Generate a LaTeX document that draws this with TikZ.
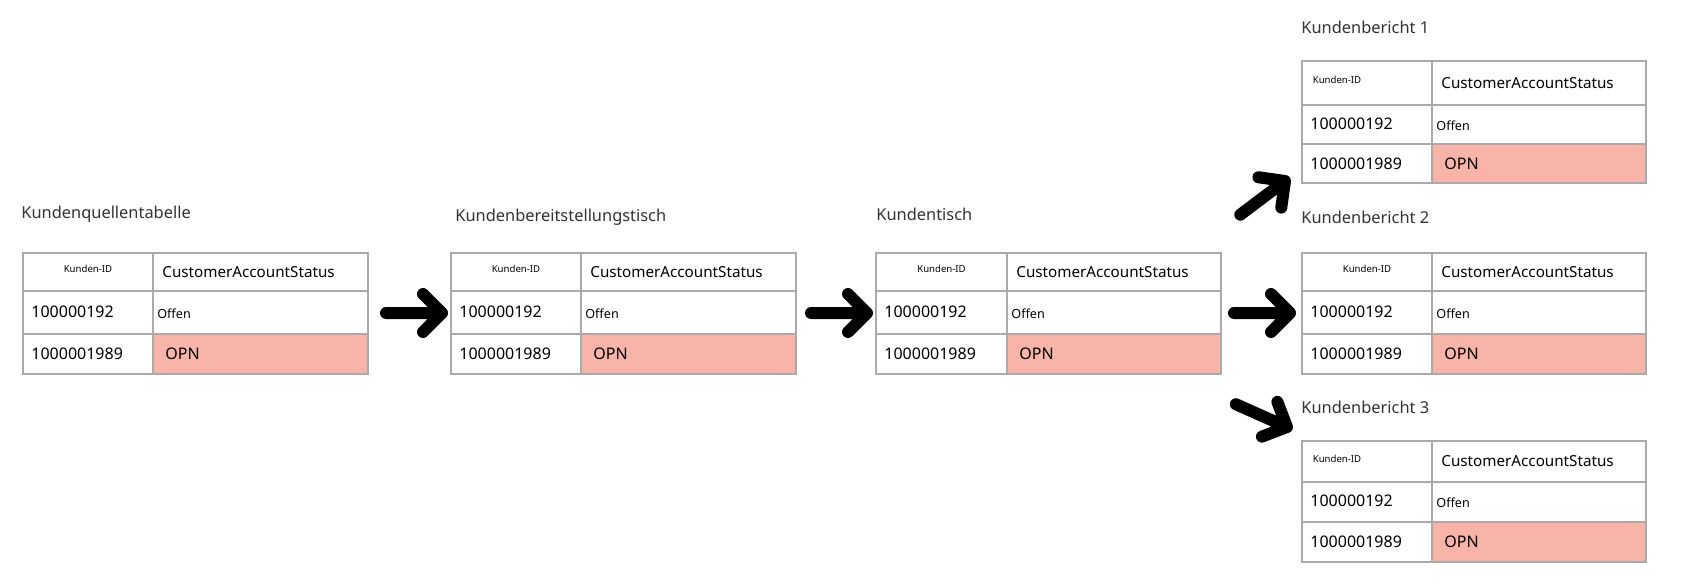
\documentclass[tikz,border=0pt]{standalone}
\usepackage{fontspec}
\setmainfont{Noto Sans}
\usetikzlibrary{fit}
\definecolor{grid}{HTML}{AAAAAA}
\definecolor{pink}{HTML}{F8B4A8}
\definecolor{txt}{HTML}{333333}
\tikzset{
  cell/.style={draw=grid,line width=1pt},
  lbl/.style={anchor=west,inner sep=0,font=\fontsize{8.2}{10}\selectfont,text=txt},
  num/.style={anchor=west,inner sep=0,font=\fontsize{8}{10}\selectfont},
  idt/.style={inner sep=0,font=\fontsize{4.8}{6}\selectfont},
  hdr/.style={anchor=west,inner sep=0,font=\bfseries\fontsize{7.6}{9}\selectfont},
  off/.style={anchor=west,inner sep=0,font=\fontsize{6.3}{8}\selectfont},
  bigarrow/.pic={\draw[line width=6pt,line cap=round,line join=round] (-56,0)--(0,0) (-19,-19)--(0,0)--(-19,19);}
}
\begin{document}
\begin{tikzpicture}[x=0.5pt,y=-0.5pt]
\def\mytable#1#2#3#4#5#6#7#8#9{%
  \fill[pink] (#3,#7) rectangle (#4,#8);
  \node[fit={(#2,#5)(#4,#8)},inner sep=0] (#1) {};
  \draw[cell] (#2,#5) rectangle (#4,#8) (#3,#5)--(#3,#8) (#2,#6)--(#4,#6) (#2,#7)--(#4,#7);
  \node[idt,#9] at ({#2+0.5*(#3-#2)},{0.5*(#5+#6)-3}) {Kunden-ID};
  \node[hdr] at (#3+9,{0.5*(#5+#6)}) {CustomerAccountStatus};
  \node[num] at (#2+8,{0.5*(#6+#7)-1}) {100000192};
  \node[off] at (#3+4,{0.5*(#6+#7)+1}) {Offen};
  \node[num] at (#2+8,{0.5*(#7+#8)}) {1000001989};
  \node[num] at (#3+12,{0.5*(#7+#8)}) {OPN};
}
\useasboundingbox (0,0) rectangle (1690,588);
\mytable{t1}{23}{153}{368}{253}{291}{334}{374}{}
\mytable{t2}{451}{581}{796}{253}{291}{334}{374}{}
\mytable{t3}{876}{1007}{1221}{253}{291}{334}{374}{}
\mytable{r1}{1302}{1432}{1646}{61}{105}{144}{183}{xshift=-15pt}
\mytable{r2}{1302}{1432}{1646}{253}{291}{334}{374}{}
\mytable{r3}{1302}{1432}{1646}{441}{482}{522}{562}{xshift=-15pt}
\node[lbl] (l1) at (21,214) {Kundenquellentabelle};
\node[lbl] (l2) at (455,217) {Kundenbereitstellungstisch};
\node[lbl] (l3) at (876,214) {Kundentisch};
\node[lbl] (lr1) at (1301,27) {Kundenbericht 1};
\node[lbl] (lr2) at (1301,217) {Kundenbericht 2};
\node[lbl] (lr3) at (1301,407) {Kundenbericht 3};
\pic at (442,313) {bigarrow};
\pic at (867,313) {bigarrow};
\pic at (1290,313) {bigarrow};
\pic[rotate=37] at (1285,181) {bigarrow};
\pic[rotate=-24] at (1287,427) {bigarrow};
\end{tikzpicture}
\end{document}
